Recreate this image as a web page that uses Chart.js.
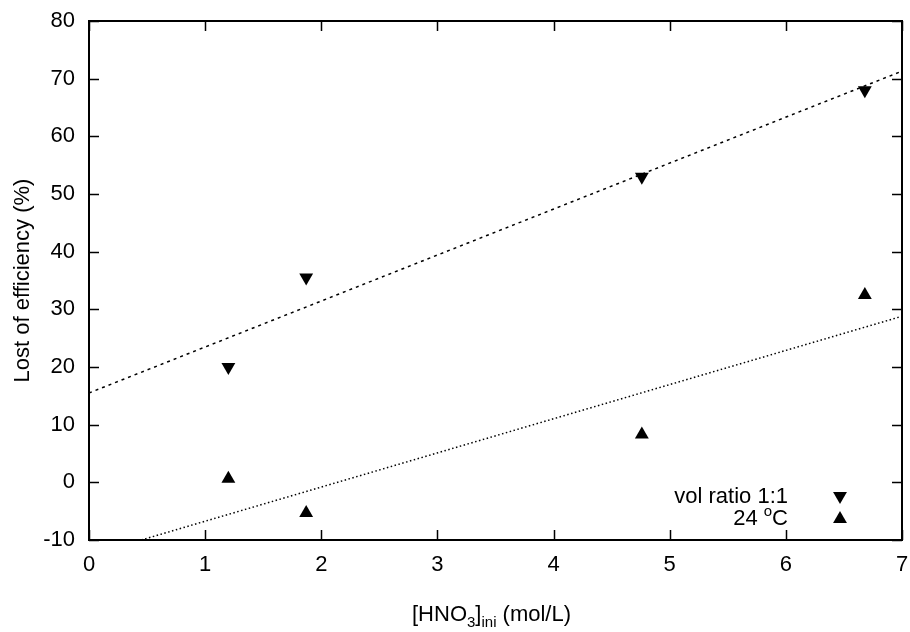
<!DOCTYPE html>
<html>
<head>
<meta charset="utf-8">
<script src="https://cdn.jsdelivr.net/npm/chart.js@4/dist/chart.umd.min.js"></script>
<style>
html,body{margin:0;padding:0;background:#fff;}
#wrap{width:910px;height:632px;position:relative;}
</style>
</head>
<body>
<div id="wrap"><canvas id="c" width="910" height="632"></canvas></div>
<script>
// ---- data ----
const hno3 = [1.2, 1.87, 4.76, 6.68];
const volRatio = [20, 35.5, 53, 68];        // vol ratio 1:1 (down triangles)
const temp24 = [0.6, -5.3, 8.3, 32.5];       // 24 °C (up triangles)
const fitVolX = [0, 7];
const fitVolY = [15.5, 71.3];
const fitTempX = [0.45, 7];
const fitTempY = [-10, 28.8];
const xTicks = [0, 1, 2, 3, 4, 5, 6, 7];
const yTicks = [-10, 0, 10, 20, 30, 40, 50, 60, 70, 80];
const legendLabels = ['vol ratio 1:1', '24 °C'];

const FONT = '"Liberation Sans", Arial, sans-serif';
const FS = 22;
const FSS = 15;

const toXY = (xs, ys) => xs.map((x, i) => ({x: x, y: ys[i]}));

const framePlugin = {
  id: 'frame',
  afterDraw(chart) {
    const ctx = chart.ctx;
    const a = chart.chartArea;
    const xs = chart.scales.x, ys = chart.scales.y;
    ctx.save();
    ctx.strokeStyle = '#000';
    ctx.lineWidth = 2;
    ctx.strokeRect(a.left, a.top, a.right - a.left, a.bottom - a.top);
    ctx.lineWidth = 1.5;
    const tl = 10;
    ctx.beginPath();
    xTicks.forEach(v => {
      const px = Math.round(xs.getPixelForValue(v)) + 0.5;
      ctx.moveTo(px, a.bottom); ctx.lineTo(px, a.bottom - tl);
      ctx.moveTo(px, a.top); ctx.lineTo(px, a.top + tl);
    });
    yTicks.forEach(v => {
      const py = Math.round(ys.getPixelForValue(v)) + 0.5;
      ctx.moveTo(a.left, py); ctx.lineTo(a.left + tl, py);
      ctx.moveTo(a.right, py); ctx.lineTo(a.right - tl, py);
    });
    ctx.stroke();

    // x-axis title with subscripts
    ctx.fillStyle = '#000';
    ctx.textBaseline = 'alphabetic';
    const parts = [
      {t: '[HNO', s: FS, dy: 0},
      {t: '3', s: FSS, dy: 6},
      {t: ']', s: FS, dy: 0},
      {t: 'ini', s: FSS, dy: 6},
      {t: ' (mol/L)', s: FS, dy: 0}
    ];
    parts.forEach(p => { ctx.font = p.s + 'px ' + FONT; p.w = ctx.measureText(p.t).width; });
    let x = 412;
    const base = 621;
    ctx.textAlign = 'left';
    parts.forEach(p => {
      ctx.font = p.s + 'px ' + FONT;
      ctx.fillText(p.t, x, base + p.dy);
      x += p.w;
    });

    // legend
    const rightEdge = 788;
    const symX = 840;
    const rows = [498, 517];
    ctx.font = FS + 'px ' + FONT;
    ctx.textAlign = 'right';
    ctx.fillText(legendLabels[0], rightEdge, 503);
    // "24 °C" with superscript o
    ctx.font = FS + 'px ' + FONT;
    const wC = ctx.measureText('C').width;
    ctx.fillText('C', rightEdge, 525);
    ctx.font = FSS + 'px ' + FONT;
    const wo = ctx.measureText('o').width;
    ctx.fillText('o', rightEdge - wC, 516);
    ctx.font = FS + 'px ' + FONT;
    ctx.fillText('24 ', rightEdge - wC - wo, 525);

    // legend symbols
    const r = 8;
    const tri = (cx, cy, down) => {
      ctx.beginPath();
      const h = r * 1.5, w = r * Math.sqrt(3);
      if (down) {
        ctx.moveTo(cx - w / 2, cy - h / 2);
        ctx.lineTo(cx + w / 2, cy - h / 2);
        ctx.lineTo(cx, cy + h / 2);
      } else {
        ctx.moveTo(cx - w / 2, cy + h / 2);
        ctx.lineTo(cx + w / 2, cy + h / 2);
        ctx.lineTo(cx, cy - h / 2);
      }
      ctx.closePath();
      ctx.fill();
    };
    tri(symX, rows[0], true);
    tri(symX, rows[1], false);
    ctx.restore();
  }
};

new Chart(document.getElementById('c'), {
  type: 'scatter',
  data: {
    datasets: [
      {
        label: 'vol ratio 1:1',
        data: toXY(hno3, volRatio),
        pointStyle: 'triangle',
        rotation: 180,
        pointRadius: 8,
        backgroundColor: '#000',
        borderColor: '#000',
        borderWidth: 0
      },
      {
        label: '24 °C',
        data: toXY(hno3, temp24),
        pointStyle: 'triangle',
        pointRadius: 8,
        backgroundColor: '#000',
        borderColor: '#000',
        borderWidth: 0
      },
      {
        label: 'fit vol',
        type: 'line',
        data: toXY(fitVolX, fitVolY),
        borderColor: '#000',
        borderWidth: 1.5,
        borderDash: [3, 4],
        pointRadius: 0,
        fill: false
      },
      {
        label: 'fit temp',
        type: 'line',
        data: toXY(fitTempX, fitTempY),
        borderColor: '#000',
        borderWidth: 1.5,
        borderDash: [1.5, 2.5],
        pointRadius: 0,
        fill: false
      }
    ]
  },
  options: {
    responsive: false,
    animation: false,
    events: [],
    layout: { padding: { top: 21, right: 8, left: 0, bottom: 0 } },
    plugins: { legend: { display: false }, tooltip: { enabled: false } },
    scales: {
      x: {
        type: 'linear',
        min: 0, max: 7,
        afterBuildTicks: s => { s.ticks = xTicks.map(v => ({value: v})); },
        afterFit: s => { s.height = 92; s.paddingLeft = 0; s.paddingRight = 0; },
        grid: { display: false, drawTicks: false },
        border: { display: false },
        ticks: { color: '#000', font: { family: FONT, size: FS }, padding: 12, maxRotation: 0 }
      },
      y: {
        type: 'linear',
        min: -10, max: 80,
        afterBuildTicks: s => { s.ticks = yTicks.map(v => ({value: v})); },
        afterFit: s => { s.width = 89; s.paddingTop = 0; s.paddingBottom = 0; },
        grid: { display: false, drawTicks: false },
        border: { display: false },
        ticks: { color: '#000', font: { family: FONT, size: FS }, padding: 14 },
        title: { display: true, text: 'Lost of efficiency (%)', color: '#000', font: { family: FONT, size: FS }, padding: { top: 10, bottom: 10 } }
      }
    }
  },
  plugins: [framePlugin]
});
</script>
</body>
</html>
